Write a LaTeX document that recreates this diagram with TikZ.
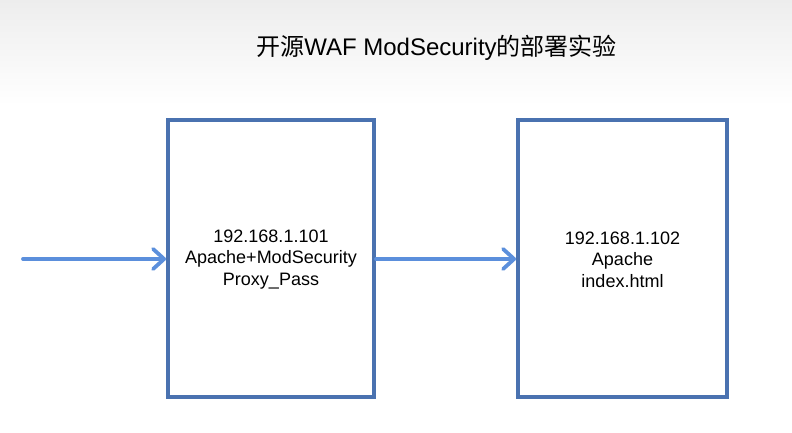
\documentclass[tikz,border=0pt]{standalone}
\usepackage{fontspec}
\setmainfont{Liberation Sans}
\newfontfamily\cjk{Noto Sans CJK SC}
\usetikzlibrary{arrows.meta}
\definecolor{boxblue}{HTML}{4A72B0}
\definecolor{arrowblue}{HTML}{5B8FDC}
\begin{document}
\begin{tikzpicture}[x=1pt,y=-1pt,
  server/.style={draw=boxblue, line width=4pt, minimum width=206pt, minimum height=277pt, inner sep=0pt},
  label/.style={align=center, font=\fontsize{18}{21.5}\selectfont, inner sep=0pt},
  flow/.style={draw=arrowblue, line width=3.8pt, line cap=round,
    -{Straight Barb[length=11pt, width=20pt, line width=3.8pt, round]}}]
\useasboundingbox (0,0) rectangle (792,433);
\fill[white] (0,0) rectangle (792,433);
\shade[top color=black!7, bottom color=white] (0,0) rectangle (792,105);
\node[font=\fontsize{24}{28}\selectfont, inner sep=0pt] (title) at (436.5,48)
  {{\cjk 开源}WAF ModSecurity{\cjk 的部署实验}};
\node[server] (proxy) at (271,258.5) {};
\node[server, minimum width=209pt] (web) at (622.5,258.5) {};
\node[label] (proxytext) at (271,259.5) {192.168.1.101\\Apache+ModSecurity\\Proxy\_Pass};
\node[label] (webtext) at (622.5,259.5) {192.168.1.102\\Apache\\index.html};
\coordinate (client) at (23,259);
\draw[flow] (client) -- (client -| proxy.west);
\draw[flow] (proxy.east |- client) -- (client -| web.west);
\end{tikzpicture}
\end{document}
